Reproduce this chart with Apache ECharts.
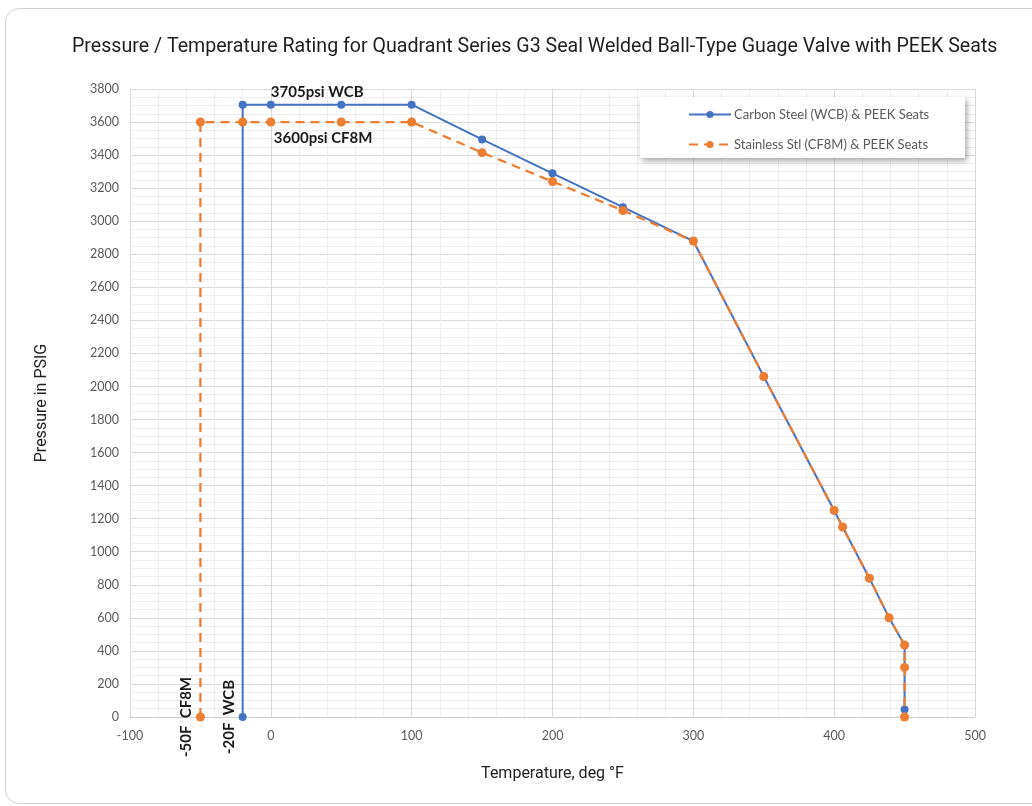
<!DOCTYPE html>
<html>
<head>
<meta charset="utf-8">
<script src="https://cdn.jsdelivr.net/npm/echarts@6/dist/echarts.min.js"></script>
<style>
  html, body { margin: 0; padding: 0; background: #ffffff; overflow: hidden; }
  #card { position: absolute; left: 5px; top: 8px; width: 1060px; height: 796px; border: 1px solid #cfcfcf; border-radius: 14px; box-sizing: border-box; }
  #chart { position: absolute; left: 0; top: 0; width: 1032px; height: 806px; }
</style>
</head>
<body>
<div id="card"></div>
<div id="chart"></div>
<script>
// ---- data ----
const titleText = 'Pressure / Temperature Rating for Quadrant Series G3 Seal Welded Ball-Type Guage Valve with PEEK Seats';
const xAxisName = 'Temperature, deg \u00B0F';
const yAxisName = 'Pressure in PSIG';
const seriesNames = ['Carbon Steel (WCB) & PEEK Seats', 'Stainless Stl (CF8M) & PEEK Seats'];

const wcbTemp = [-20, -20, 0, 50, 100, 150, 200, 250, 300, 350, 400, 406, 425, 439, 450, 450];
const wcbPsi  = [0, 3705, 3705, 3705, 3705, 3495, 3290, 3085, 2880, 2060, 1250, 1150, 840, 600, 435, 45];

const cf8mTemp = [-50, -50, -20, 0, 50, 100, 150, 200, 250, 300, 350, 400, 406, 425, 439, 450, 450, 450];
const cf8mPsi  = [0, 3600, 3600, 3600, 3600, 3600, 3415, 3240, 3065, 2880, 2060, 1250, 1150, 840, 600, 435, 300, 0];

const xTicks = [-100, 0, 100, 200, 300, 400, 500];
const yTicks = [0, 200, 400, 600, 800, 1000, 1200, 1400, 1600, 1800, 2000, 2200, 2400, 2600, 2800, 3000, 3200, 3400, 3600, 3800];

// annotation labels keyed by point index
const wcbNotes  = { 0: '-20F  WCB', 2: '3705psi WCB' };
const cf8mNotes = { 0: '-50F  CF8M', 3: '3600psi CF8M' };

// ---- styles ----
const blue = '#4472c4';
const orange = '#ed7d31';
const noteFont = { fontFamily: 'Lato', fontWeight: 'bold', fontSize: 15, color: '#1a1a1a' };

function rotatedNote(text) {
  return Object.assign({ show: true, formatter: text, position: 'left', distance: 10, rotate: 90, align: 'center', verticalAlign: 'middle' }, noteFont);
}

const wcbData = wcbTemp.map((t, i) => {
  const item = { value: [t, wcbPsi[i]] };
  if (i === 0) item.label = rotatedNote(wcbNotes[0]);
  if (i === 2) item.label = Object.assign({ show: true, formatter: wcbNotes[2], position: 'top', distance: 1, align: 'left', offset: [0, 0] }, noteFont);
  return item;
});
const cf8mData = cf8mTemp.map((t, i) => {
  const item = { value: [t, cf8mPsi[i]] };
  if (i === 0) item.label = rotatedNote(cf8mNotes[0]);
  if (i === 3) item.label = Object.assign({ show: true, formatter: cf8mNotes[3], position: 'bottom', distance: 4, align: 'left', offset: [3, 0] }, noteFont);
  return item;
});

const chart = echarts.init(document.getElementById('chart'), null, { renderer: 'canvas' });
const tickFont = { fontFamily: 'Lato', fontSize: 12.5, color: '#595959' };

chart.setOption({
  animation: false,
  backgroundColor: 'transparent',
  title: {
    text: titleText,
    left: 67, top: 32,
    textStyle: { fontFamily: 'Roboto', fontWeight: 'normal', fontSize: 19.6, color: '#1f1f1f' }
  },
  graphic: [{
    type: 'rect', left: 640, top: 97, z: 3,
    shape: { width: 325, height: 61 },
    style: { fill: '#ffffff', shadowBlur: 6, shadowOffsetX: 2, shadowOffsetY: 3, shadowColor: 'rgba(0,0,0,0.35)' }
  }],
  legend: {
    orient: 'vertical', left: 683, top: 103, z: 5,
    itemWidth: 42, itemHeight: 9, itemGap: 17,
    textStyle: { fontFamily: 'Lato', fontSize: 13, color: '#595959', padding: [0, 0, 0, -2] },
    data: seriesNames
  },
  grid: { left: 130, right: 57, top: 89, bottom: 89 },
  xAxis: {
    type: 'value', min: xTicks[0], max: xTicks[xTicks.length - 1], interval: 100,
    name: xAxisName, nameLocation: 'middle', nameGap: 49,
    nameTextStyle: { fontFamily: 'Roboto', fontSize: 16, color: '#1f1f1f' },
    axisLine: { show: true, onZero: false, lineStyle: { color: '#cfcfcf', width: 1 } },
    axisTick: { show: false },
    axisLabel: Object.assign({ margin: 12, formatter: v => String(v) }, tickFont),
    splitLine: { show: true, lineStyle: { color: '#d9d9d9', width: 1 } },
    minorTick: { show: false, splitNumber: 5 },
    minorSplitLine: { show: true, lineStyle: { color: '#eeeeee', width: 1 } }
  },
  yAxis: {
    type: 'value', min: yTicks[0], max: yTicks[yTicks.length - 1], interval: 200,
    name: yAxisName, nameLocation: 'middle', nameGap: 80,
    nameTextStyle: { fontFamily: 'Roboto', fontSize: 16, color: '#1f1f1f' },
    axisLine: { show: false },
    axisTick: { show: false },
    axisLabel: Object.assign({ margin: 11, formatter: v => String(v) }, tickFont),
    splitLine: { show: true, lineStyle: { color: '#d9d9d9', width: 1 } },
    minorTick: { show: false, splitNumber: 4 },
    minorSplitLine: { show: true, lineStyle: { color: '#eeeeee', width: 1 } }
  },
  series: [
    {
      name: seriesNames[0], type: 'line', data: wcbData,
      symbol: 'circle', symbolSize: 8, showAllSymbol: true,
      lineStyle: { color: blue, width: 2 },
      itemStyle: { color: blue },
      z: 2
    },
    {
      name: seriesNames[1], type: 'line', data: cf8mData,
      symbol: 'circle', symbolSize: 9, showAllSymbol: true,
      lineStyle: { color: orange, width: 2.25, type: [9, 6] },
      itemStyle: { color: orange },
      z: 3
    }
  ]
});
</script>
</body>
</html>
